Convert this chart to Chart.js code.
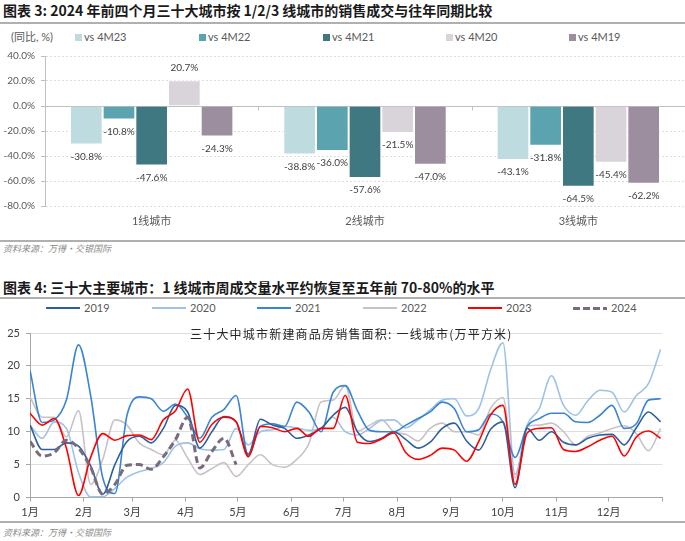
<!DOCTYPE html>
<html>
<head>
<meta charset="utf-8">
<script src="https://cdn.jsdelivr.net/npm/chart.js@4.4.1/dist/chart.umd.min.js"></script>
<style>
html,body{margin:0;padding:0;background:#fff;}
body{width:685px;height:541px;position:relative;overflow:hidden;font-family:Lato,"Noto Sans CJK SC",sans-serif;}
.abs{position:absolute;}
.title{left:3px;font-family:"Noto Sans CJK SC",sans-serif;font-weight:700;font-size:14px;color:#1a1a1a;white-space:nowrap;line-height:18px;}
.sep{left:0;width:685px;background:#b0b0b0;}
.src{left:3px;font-family:"Noto Sans CJK SC",sans-serif;font-style:italic;font-size:9px;color:#8a8a8a;line-height:12px;white-space:nowrap;}
.lg{font-size:11px;color:#595959;line-height:14px;white-space:nowrap;font-family:Lato,"Noto Sans CJK SC",sans-serif;}
.sw{width:7px;height:7px;}
.ln{width:34px;height:2px;}
.inner{font-family:"Noto Sans CJK SC",sans-serif;font-size:12px;letter-spacing:1.2px;color:#262626;white-space:nowrap;line-height:14px;}
</style>
</head>
<body>
<script>
// ---------- Chart 3 data ----------
const barCategories = ['1线城市', '2线城市', '3线城市'];
const barSeriesNames = ['vs 4M23', 'vs 4M22', 'vs 4M21', 'vs 4M20', 'vs 4M19'];
const vs4M23 = [-30.8, -38.8, -43.1];
const vs4M22 = [-10.8, -36.0, -31.8];
const vs4M21 = [-47.6, -57.6, -64.5];
const vs4M20 = [20.7, -21.5, -45.4];
const vs4M19 = [-24.3, -47.0, -62.2];
const barTicks = [40, 20, 0, -20, -40, -60, -80];

// ---------- Chart 4 data (weekly, day-of-year = 7*week) ----------
const monthLabels = ['1月','2月','3月','4月','5月','6月','7月','8月','9月','10月','11月','12月',''];
const monthStartDays = [0,31,59,90,120,151,181,212,243,273,304,334,365];
const lineYTicks = [0,5,10,15,20,25];
const y2019 = [11,7.3,7.3,8.3,7.8,4.8,0.5,5,8.5,9.3,8.3,10.5,14,13,7.5,10,12.3,11.5,6.6,11.9,11,10.5,9,9.5,10.5,12.5,13.7,10,8.5,9,10,8.8,7.5,8.4,10.5,11.3,8.6,7.2,10.4,11.5,1.5,10.5,8.7,10,8.4,8,9,9.5,9.6,8,10.6,13,11.5];
const y2020 = [11,9,11.5,10.5,3.8,0.1,0.1,1.4,3.1,3.9,4.4,5.3,7.8,8.3,7.4,7.2,7.3,10.5,8,10,10.3,10.8,10.6,10.2,10.5,12.2,10,9.5,10.5,11.7,11.8,10.6,11.8,13.3,14.8,15,12.4,13.5,19.5,23.5,3.5,11,13.5,18.5,14,12.5,14.7,16.3,16,13,15.5,17.3,22.5];
const y2021 = [19.3,11.4,11.8,14.8,23.2,15.5,3,0.6,12.5,15.3,15,13.1,14.2,12.2,9,12.2,13.4,15.5,6.3,10.8,11.2,10.8,14.5,13,10,16,17,13.2,10.2,10,10,11,12,13,14.5,13.5,10,10.3,12.7,11.5,6.1,10.8,12,12.8,12.8,11.5,11.4,12.5,14,10.5,11.2,14.8,15];
const y2022 = [15.3,12.2,12.2,9.2,13.2,2,5.8,11.8,11,8.3,7.3,6.5,8.7,6,3.5,4.4,5.3,3.2,5,6.5,5,4.6,5.8,8.2,14.5,14.8,17,10.1,11,11.8,10,9.6,8.6,10.5,11.3,10,10,9.5,13.6,15.2,3,10.8,11,11.3,10,8,9.3,9.8,10.5,10.9,9.7,7.1,10.5];
const y2023 = [12.8,11,12,7.5,0.3,6.1,9.7,8.7,9.4,9.5,8.8,11.8,13.2,16.5,8.4,11.1,12.2,11.5,6.2,10.8,10.6,10,10.5,9.3,10.5,10.5,15.5,8.4,8.2,8.9,9.8,6.8,5.8,6.4,7.5,7.2,5.5,8.5,12.6,14,2,9.8,10.5,10.6,7.3,7,7.7,8.7,9.3,6.3,9.2,10.1,9];
const y2024 = [8.5,6.3,6.8,8.7,7.5,4.6,0.5,2,4.9,5,4.3,6.2,8.8,12.2,4.5,7,9,5];
const lineYears = ['2019','2020','2021','2022','2023','2024'];
</script>

<div class="abs title" style="top:1px;">图表 3: 2024 年前四个月三十大城市按 1/2/3 线城市的销售成交与往年同期比较</div>
<div class="abs sep" style="top:22px;height:2px;"></div>
<div class="abs lg" style="left:11px;top:30px;">(同比, %)</div>
<div id="barLegend"></div>
<canvas id="c1" class="abs" style="left:0;top:44px;" width="685" height="192"></canvas>
<div class="abs sep" style="top:240px;height:2px;"></div>
<div class="abs src" style="top:243px;">资料来源：万得・交银国际</div>

<div class="abs title" style="top:278px;">图表 4: 三十大主要城市：1 线城市周成交量水平约恢复至五年前 70-80%的水平</div>
<div class="abs sep" style="top:297px;height:2px;"></div>
<div id="lineLegend"></div>
<canvas id="c2" class="abs" style="left:0;top:316px;" width="685" height="204"></canvas>
<div class="abs inner" style="left:190px;top:327px;">三十大中城市新建商品房销售面积: 一线城市(万平方米)</div>
<div class="abs sep" style="top:521px;height:2px;"></div>
<div class="abs src" style="top:527px;">资料来源：万得・交银国际</div>

<script>
const barColors = ['#BEDCE0', '#5BA3AE', '#407882', '#D9D3DA', '#9D8E9F'];
const barData = [vs4M23, vs4M22, vs4M21, vs4M20, vs4M19];
const lineColors = ['#2E5E9C', '#9DC3E6', '#3A85D2', '#C9C1C9', '#FF0000', '#7A6A7E'];
const lineData = [y2019, y2020, y2021, y2022, y2023, y2024];
const lineOrder = [2, 4, 3, 5, 1, 0];

// HTML legends
(function(){
  const bl = document.getElementById('barLegend');
  const bx = [75, 199, 323, 446, 569];
  barSeriesNames.forEach((n, i) => {
    const s = document.createElement('div');
    s.className = 'abs sw'; s.style.left = bx[i] + 'px'; s.style.top = '34px'; s.style.background = barColors[i];
    bl.appendChild(s);
    const t = document.createElement('div');
    t.className = 'abs lg'; t.style.left = (bx[i] + 9) + 'px'; t.style.top = '30px'; t.textContent = n;
    bl.appendChild(t);
  });
  const ll = document.getElementById('lineLegend');
  const lx = [46, 152, 257, 363, 468, 573];
  lineYears.forEach((n, i) => {
    const s = document.createElement('div');
    s.className = 'abs ln'; s.style.left = lx[i] + 'px';
    if (i === 5) {
      s.style.top = '306.5px'; s.style.height = '3px';
      s.style.background = 'repeating-linear-gradient(90deg,' + lineColors[i] + ' 0 7px, transparent 7px 10px)';
    } else {
      s.style.top = '307px'; s.style.background = lineColors[i];
    }
    ll.appendChild(s);
    const t = document.createElement('div');
    t.className = 'abs lg'; t.style.left = (lx[i] + 38) + 'px'; t.style.top = '301px'; t.textContent = n;
    ll.appendChild(t);
  });
})();

const FONT = 'Lato, "Noto Sans CJK SC", sans-serif';

const barExtras = {
  id: 'barExtras',
  beforeDatasetsDraw(chart) {
    const {ctx, chartArea} = chart;
    const y0 = Math.round(chart.scales.y.getPixelForValue(0)) + 0.5;
    ctx.save();
    ctx.strokeStyle = '#bfbfbf'; ctx.lineWidth = 1;
    ctx.beginPath(); ctx.moveTo(chartArea.left, y0); ctx.lineTo(chartArea.right, y0);
    const n = chart.data.labels.length;
    for (let i = 1; i < n; i++) {
      const x = Math.round(chartArea.left + i * (chartArea.right - chartArea.left) / n) + 0.5;
      ctx.moveTo(x, y0); ctx.lineTo(x, y0 + 4);
    }
    ctx.stroke();
    ctx.restore();
  },
  afterDatasetsDraw(chart) {
    const ctx = chart.ctx;
    ctx.save();
    ctx.font = '10px ' + FONT; ctx.fillStyle = '#404040';
    ctx.textAlign = 'center'; ctx.textBaseline = 'middle';
    chart.data.datasets.forEach((ds, i) => {
      chart.getDatasetMeta(i).data.forEach((el, j) => {
        const v = ds.data[j];
        const y = v < 0 ? el.y + 12 : el.y - 12;
        ctx.fillText(v.toFixed(1) + '%', el.x, y);
      });
    });
    ctx.restore();
  }
};

new Chart(document.getElementById('c1'), {
  type: 'bar',
  data: {
    labels: barCategories,
    datasets: barSeriesNames.map((n, i) => ({
      label: n, data: barData[i], backgroundColor: barColors[i],
      borderColor: 'rgba(255,255,255,0.7)', borderWidth: 1, borderSkipped: 'start',
      categoryPercentage: 0.766, barPercentage: 1
    }))
  },
  options: {
    responsive: false, animation: false, devicePixelRatio: 1,
    layout: {padding: {top: 12, right: 0, left: 0, bottom: 0}},
    plugins: {legend: {display: false}, tooltip: {enabled: false}},
    scales: {
      x: {
        grid: {display: false, drawTicks: false}, border: {display: false},
        ticks: {font: {size: 11, family: FONT}, color: '#595959', padding: 9},
        afterFit(s) { s.height = 30; }
      },
      y: {
        min: -80, max: 40,
        afterBuildTicks(s) { s.ticks = barTicks.slice().reverse().map(v => ({value: v})); },
        ticks: {callback: v => v.toFixed(1) + '%', font: {size: 10, family: FONT}, color: '#595959', padding: 6},
        grid: {color: '#dcdcdc', tickColor: '#bfbfbf', tickLength: 4},
        border: {color: '#bfbfbf', dash: [2, 2]},
        afterFit(s) { s.width = 45; }
      }
    }
  },
  plugins: [barExtras]
});

new Chart(document.getElementById('c2'), {
  type: 'line',
  data: {
    datasets: lineYears.map((n, i) => ({
      label: n,
      data: lineData[i].map((v, k) => ({x: 7 * k, y: v})),
      borderColor: lineColors[i],
      borderWidth: i === 5 ? 3 : 1.6,
      borderDash: i === 5 ? [7, 4] : [],
      pointRadius: 0, cubicInterpolationMode: 'monotone', fill: false,
      order: lineOrder[i]
    }))
  },
  options: {
    responsive: false, animation: false, devicePixelRatio: 1,
    layout: {padding: {top: 17, right: 22.7, left: 0, bottom: 0}},
    plugins: {legend: {display: false}, tooltip: {enabled: false}},
    scales: {
      x: {
        type: 'linear', min: 0, max: 365,
        afterBuildTicks(s) { s.ticks = monthStartDays.map(v => ({value: v})); },
        ticks: {autoSkip: false, maxRotation: 0, callback: (v, i) => monthLabels[i], font: {size: 11, family: FONT}, color: '#404040', padding: 4},
        grid: {drawOnChartArea: false, tickLength: 4, color: '#a6a6a6'},
        border: {color: '#a6a6a6'},
        afterFit(s) { s.height = 22.5; }
      },
      y: {
        min: 0, max: 25,
        afterBuildTicks(s) { s.ticks = lineYTicks.map(v => ({value: v})); },
        ticks: {font: {size: 11, family: FONT}, color: '#404040', padding: 6},
        grid: {color: '#dedede', tickColor: '#a6a6a6', tickLength: 4},
        border: {color: '#a6a6a6'},
        afterFit(s) { s.width = 30; }
      }
    }
  }
});
</script>
</body>
</html>
